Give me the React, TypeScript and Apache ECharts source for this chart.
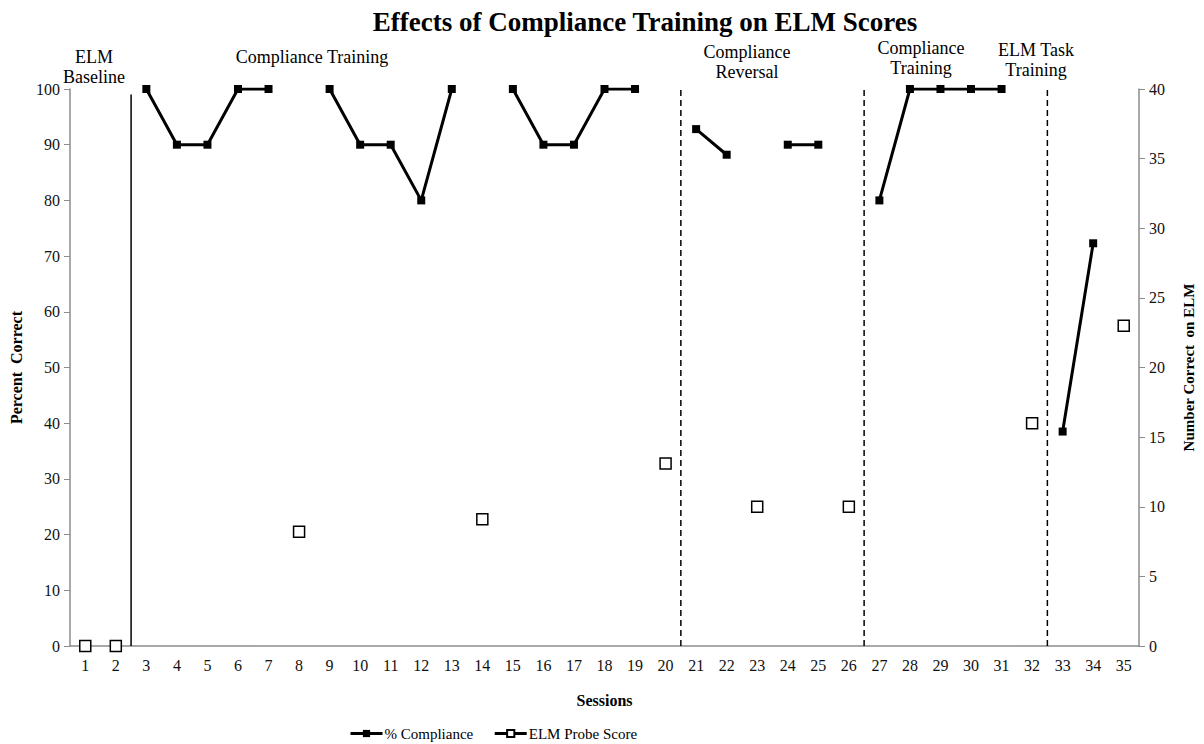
import React, { useEffect, useRef } from "react";
import * as echarts from "echarts";

const sessions = ["1","2","3","4","5","6","7","8","9","10","11","12","13","14","15","16","17","18","19","20","21","22","23","24","25","26","27","28","29","30","31","32","33","34","35"];

// % Compliance (left axis, percent)
const compliance = [null, null, 100, 90, 90, 100, 100, null, 100, 90, 90, 80, 100, null, 100, 90, 90, 100, 100, null, 92.8, 88.2, null, 90, 90, null, 80, 100, 100, 100, 100, null, 38.5, 72.3, null];

// ELM Probe Score (right axis, number correct)
const elmProbe = [0, 0, null, null, null, null, null, 8.2, null, null, null, null, null, 9.1, null, null, null, null, null, 13.1, null, null, 10, null, null, 10, null, null, null, null, null, 16, null, null, 23];

// phase change lines (between sessions)
const phaseBoundaries = [2.5, 20.5, 26.5, 32.5];
const phaseLineTops = [99, 100, 100, 100];
const phaseLineTypes: any[] = ["solid", [6, 4], [6, 4], [6, 4]];

const leftTicks = { min: 0, max: 100, interval: 10 };
const rightTicks = { min: 0, max: 40, interval: 5 };

const phaseLabels = [
  { text: "ELM\nBaseline", x: 94, y: 47 },
  { text: "Compliance Training", x: 312, y: 47 },
  { text: "Compliance\nReversal", x: 747, y: 42 },
  { text: "Compliance\nTraining", x: 921, y: 38 },
  { text: "ELM Task\nTraining", x: 1036, y: 40 },
];

const FONT = "'Liberation Serif', 'Times New Roman', serif";

export default function App() {
  const ref = useRef<HTMLDivElement>(null);
  useEffect(() => {
    const chart = echarts.init(ref.current!, null, { renderer: "svg" });
    const phaseSeries = phaseBoundaries.map((b, i) => ({
      type: "line",
      name: "phase" + i,
      xAxisIndex: 1,
      yAxisIndex: 0,
      data: [[b, 0], [b, phaseLineTops[i]]],
      symbol: "none",
      silent: true,
      lineStyle: { color: "#000", width: 1.5, type: phaseLineTypes[i] },
      z: 1,
    }));
    chart.setOption({
      animation: false,
      backgroundColor: "#fff",
      textStyle: { fontFamily: FONT },
      title: {
        text: "Effects of Compliance Training on ELM Scores",
        left: 640,
        textAlign: "center",
        top: 3,
        textStyle: { fontFamily: FONT, fontSize: 27, fontWeight: "bold", color: "#000" },
      },
      grid: { left: 64, right: 60, top: 89, bottom: 98, containLabel: false },
      legend: {
        left: 344,
        top: 721,
        itemWidth: 32,
        itemHeight: 9,
        itemGap: 20,
        textStyle: { fontFamily: FONT, fontSize: 15, color: "#000", padding: [0, 0, 0, -3] },
        data: [
          { name: "% Compliance", lineStyle: { width: 3, color: "#000" } },
          { name: "ELM Probe Score", lineStyle: { width: 3, color: "#000", opacity: 1 } },
        ],
      },
      xAxis: [
        {
          type: "category",
          data: sessions,
          boundaryGap: true,
          name: "Sessions",
          nameLocation: "middle",
          nameGap: 46,
          nameTextStyle: { fontFamily: FONT, fontSize: 16, fontWeight: "bold", color: "#000" },
          axisLine: { lineStyle: { color: "#8c8c8c", width: 1.5 } },
          axisTick: { alignWithLabel: true, length: 6, lineStyle: { color: "#8c8c8c" } },
          axisLabel: { fontFamily: FONT, fontSize: 16, color: "#111", margin: 11 },
          splitLine: { show: false },
        },
        {
          type: "value",
          min: 0.5,
          max: 35.5,
          show: false,
        },
      ],
      yAxis: [
        {
          type: "value",
          ...leftTicks,
          name: "Percent  Correct",
          nameLocation: "middle",
          nameGap: 46,
          nameTextStyle: { fontFamily: FONT, fontSize: 16, fontWeight: "bold", color: "#000" },
          axisLine: { show: true, lineStyle: { color: "#8c8c8c", width: 1.5 } },
          axisTick: { show: true, length: 6, lineStyle: { color: "#8c8c8c" } },
          axisLabel: { fontFamily: FONT, fontSize: 16, color: "#111", margin: 10 },
          splitLine: { show: false },
        },
        {
          type: "value",
          ...rightTicks,
          position: "right",
          name: "Number Correct  on ELM",
          nameLocation: "middle",
          nameGap: 42,
          nameRotate: 90,
          nameTextStyle: { fontFamily: FONT, fontSize: 15, fontWeight: "bold", color: "#000" },
          axisLine: { show: true, lineStyle: { color: "#8c8c8c", width: 1.5 } },
          axisTick: { show: true, length: 6, lineStyle: { color: "#8c8c8c" } },
          axisLabel: { fontFamily: FONT, fontSize: 16, color: "#111", margin: 10 },
          splitLine: { show: false },
        },
      ],
      series: [
        ...phaseSeries,
        {
          type: "line",
          name: "% Compliance",
          data: compliance,
          yAxisIndex: 0,
          connectNulls: false,
          symbol: "rect",
          symbolSize: 8,
          showSymbol: true,
          itemStyle: { color: "#000" },
          lineStyle: { color: "#000", width: 3 },
          z: 3,
        },
        {
          type: "line",
          name: "ELM Probe Score",
          data: elmProbe,
          yAxisIndex: 1,
          connectNulls: false,
          symbol: "rect",
          symbolSize: 11,
          showSymbol: true,
          itemStyle: { color: "#fff", borderColor: "#000", borderWidth: 1.5 },
          lineStyle: { width: 0, color: "#000" },
          z: 4,
        },
      ],
      graphic: phaseLabels.map((p) => ({
        type: "text",
        x: p.x,
        y: p.y,
        style: {
          text: p.text,
          fontFamily: FONT,
          fontSize: 18,
          fill: "#000",
          textAlign: "center",
          lineHeight: 20,
        },
      })),
    });
    return () => chart.dispose();
  }, []);
  return (
    <div
      ref={ref}
      style={{ position: "fixed", left: 0, top: 0, width: 1204, height: 744 }}
    />
  );
}
